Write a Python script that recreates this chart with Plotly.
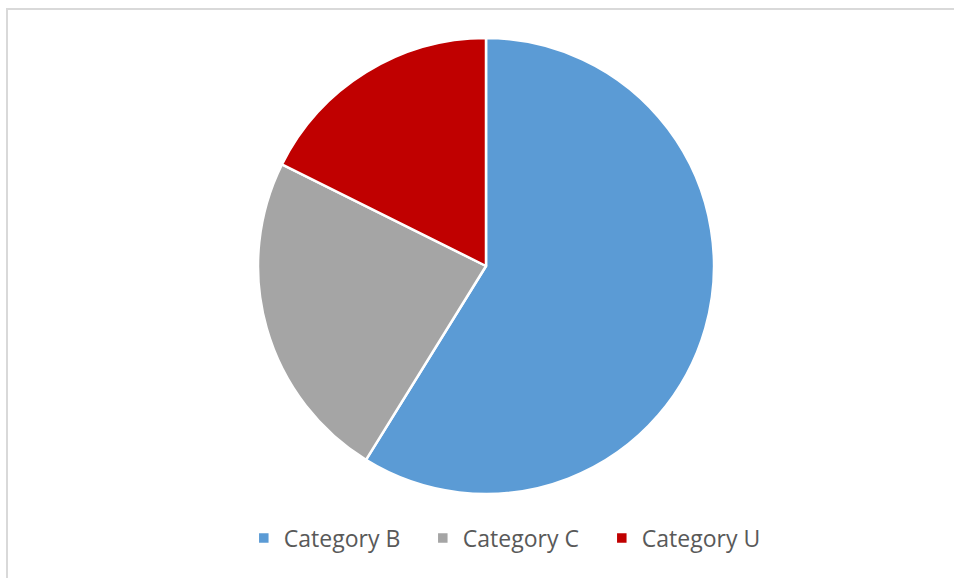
import plotly.graph_objects as go

# Category shares of the whole
categories = ["Category B", "Category C", "Category U"]
values = [10, 4, 3]
colors = ["#5B9BD5", "#A5A5A5", "#C00000"]

W, H = 954, 578

fig = go.Figure()
fig.add_trace(go.Pie(
    labels=categories,
    values=values,
    marker=dict(colors=colors, line=dict(color="#FFFFFF", width=2.5)),
    sort=False,
    direction="clockwise",
    rotation=0,
    textinfo="none",
    hoverinfo="label+percent",
    domain=dict(x=[(486 - 228) / W, (486 + 228) / W],
                y=[1 - 494 / H, 1 - 38 / H]),
))

# light frame around the chart area
fig.add_shape(type="rect", xref="paper", yref="paper",
              x0=7 / W, x1=1.02, y0=-0.02, y1=1 - 9 / H,
              line=dict(color="#D9D9D9", width=2), fillcolor="rgba(0,0,0,0)")

fig.update_layout(
    width=W, height=H,
    margin=dict(l=0, r=0, t=0, b=0),
    paper_bgcolor="#FFFFFF",
    plot_bgcolor="#FFFFFF",
    font=dict(family="Open Sans, DejaVu Sans, sans-serif", color="#595959"),
    showlegend=True,
    legend=dict(
        orientation="h",
        x=0.537, xanchor="center",
        y=1 - 538 / H, yanchor="middle",
        font=dict(size=23, color="#595959"),
        itemwidth=30,
        entrywidth=134,
        entrywidthmode="pixels",
        traceorder="normal",
    ),
)

fig.write_html("out.html")
